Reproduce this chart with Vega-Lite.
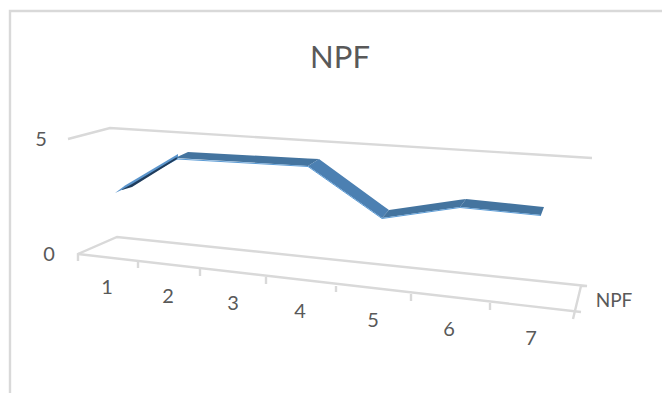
{
  "$schema": "https://vega.github.io/schema/vega-lite/v6.json",
  "width": 662,
  "height": 393,
  "autosize": "none",
  "padding": 0,
  "background": "white",
  "title": {"text": "NPF", "font": "Lato", "fontSize": 31, "fontWeight": "normal", "color": "#595959", "anchor": "middle", "offset": -75, "dx": 9},
  "view": {"stroke": null},
  "datasets": {
    "frame": [
      {"path": "border", "seq": 1, "run": -1.36, "level": -6.043},
      {"path": "border", "seq": 2, "run": -1.36, "level": 10.565},
      {"path": "border", "seq": 3, "run": 11.68, "level": 10.565},
      {"path": "gridline5", "seq": 1, "run": -0.2, "level": 5.0},
      {"path": "gridline5", "seq": 2, "run": 0.64, "level": 5.478},
      {"path": "gridline5", "seq": 3, "run": 10.28, "level": 4.174},
      {"path": "floor", "seq": 1, "run": -0.0, "level": -0.304},
      {"path": "floor", "seq": 2, "run": 0, "level": 0},
      {"path": "floor", "seq": 3, "run": 0.78, "level": 0.739},
      {"path": "floor", "seq": 4, "run": 10.18, "level": -1.391},
      {"path": "floor", "seq": 5, "run": 10.06, "level": -1.391},
      {"path": "floor", "seq": 6, "run": 9.9, "level": -2.826},
      {"path": "front", "seq": 1, "run": 0, "level": 0},
      {"path": "front", "seq": 2, "run": 10.06, "level": -2.522},
      {"path": "tick1", "seq": 1, "run": 1.2, "level": -0.348},
      {"path": "tick1", "seq": 2, "run": 1.2, "level": -0.609},
      {"path": "tick2", "seq": 1, "run": 2.44, "level": -0.652},
      {"path": "tick2", "seq": 2, "run": 2.44, "level": -0.957},
      {"path": "tick3", "seq": 1, "run": 3.76, "level": -1.0},
      {"path": "tick3", "seq": 2, "run": 3.76, "level": -1.304},
      {"path": "tick4", "seq": 1, "run": 5.16, "level": -1.391},
      {"path": "tick4", "seq": 2, "run": 5.16, "level": -1.652},
      {"path": "tick5", "seq": 1, "run": 6.66, "level": -1.739},
      {"path": "tick5", "seq": 2, "run": 6.66, "level": -2.043},
      {"path": "tick6", "seq": 1, "run": 8.24, "level": -2.13},
      {"path": "tick6", "seq": 2, "run": 8.24, "level": -2.435}
    ],
    "ribbon": [
      {"face": "rise top", "run": 0.74, "level": 2.652, "level2": 2.652},
      {"face": "rise top", "run": 0.94, "level": 2.978, "level2": 2.848},
      {"face": "rise top", "run": 2.0, "level": 4.348, "level2": 4.13},
      {"face": "rise side", "run": 0.88, "level": 2.804, "level2": 2.783},
      {"face": "rise side", "run": 1.08, "level": 3.043, "level2": 2.913},
      {"face": "rise side", "run": 1.98, "level": 4.217, "level2": 4.13},
      {"face": "plateau", "run": 1.94, "level": 4.174, "level2": 4.174},
      {"face": "plateau", "run": 2.2, "level": 4.435, "level2": 4.145},
      {"face": "plateau", "run": 4.6, "level": 4.156, "level2": 3.826},
      {"face": "plateau", "run": 4.82, "level": 4.13, "level2": 4.13},
      {"face": "drop", "run": 4.6, "level": 3.826, "level2": 3.826},
      {"face": "drop", "run": 4.82, "level": 4.13, "level2": 3.49},
      {"face": "drop", "run": 6.08, "level": 2.135, "level2": 1.565},
      {"face": "drop", "run": 6.22, "level": 1.913, "level2": 1.913},
      {"face": "recovery", "run": 6.08, "level": 1.565, "level2": 1.565},
      {"face": "recovery", "run": 6.22, "level": 1.913, "level2": 1.608},
      {"face": "recovery", "run": 7.64, "level": 2.354, "level2": 2.043},
      {"face": "recovery", "run": 7.76, "level": 2.391, "level2": 2.391},
      {"face": "tail", "run": 7.64, "level": 2.043, "level2": 2.043},
      {"face": "tail", "run": 7.76, "level": 2.391, "level2": 2.017},
      {"face": "tail", "run": 9.26, "level": 2.057, "level2": 1.696},
      {"face": "tail", "run": 9.32, "level": 2.043, "level2": 2.043}
    ],
    "rim": [
      {"seq": 1, "run": 1.98, "level": 4.13},
      {"seq": 2, "run": 4.6, "level": 3.804},
      {"seq": 3, "run": 6.08, "level": 1.543},
      {"seq": 4, "run": 7.64, "level": 2.022},
      {"seq": 5, "run": 9.26, "level": 1.674}
    ],
    "tickLabels": [
      {"label": "1", "run": 0.58, "level": -1.478},
      {"label": "2", "run": 1.8, "level": -1.87},
      {"label": "3", "run": 3.1, "level": -2.174},
      {"label": "4", "run": 4.44, "level": -2.522},
      {"label": "5", "run": 5.9, "level": -2.913},
      {"label": "6", "run": 7.42, "level": -3.304},
      {"label": "7", "run": 9.06, "level": -3.696},
      {"label": "0", "run": -0.58, "level": -0.043},
      {"label": "5", "run": -0.74, "level": 4.957}
    ],
    "seriesLabel": [
      {"label": "NPF", "run": 10.72, "level": -2.043}
    ]
  },
  "encoding": {
    "x": {"field": "run", "type": "quantitative", "axis": null, "scale": {"domain": [-1.56, 11.68], "nice": false, "zero": false}},
    "y": {"field": "level", "type": "quantitative", "axis": null, "scale": {"domain": [-6.043, 11.043], "nice": false, "zero": false}}
  },
  "layer": [
    {
      "data": {"name": "frame"},
      "mark": {"type": "line", "stroke": "#d9d9d9", "strokeWidth": 2.4, "clip": false},
      "encoding": {
        "detail": {"field": "path", "type": "nominal"},
        "order": {"field": "seq", "type": "quantitative"}
      }
    },
    {
      "data": {"name": "ribbon"},
      "mark": {"type": "area", "orient": "vertical"},
      "encoding": {
        "y2": {"field": "level2"},
        "color": {
          "field": "face",
          "type": "nominal",
          "legend": null,
          "scale": {
            "domain": ["rise top", "rise side", "plateau", "drop", "recovery", "tail"],
            "range": ["#5b95cc", "#1f3c5c", "#44749f", "#4c80b2", "#44749f", "#44749f"]
          }
        }
      }
    },
    {
      "data": {"name": "rim"},
      "mark": {"type": "line", "stroke": "#5b9bd5", "strokeWidth": 1},
      "encoding": {"order": {"field": "seq", "type": "quantitative"}}
    },
    {
      "data": {"name": "tickLabels"},
      "mark": {"type": "text", "font": "Lato", "fontSize": 20, "color": "#595959", "align": "center", "baseline": "middle"},
      "encoding": {"text": {"field": "label", "type": "nominal"}}
    },
    {
      "data": {"name": "seriesLabel"},
      "mark": {"type": "text", "font": "Lato", "fontSize": 19, "color": "#595959", "align": "center", "baseline": "middle"},
      "encoding": {"text": {"field": "label", "type": "nominal"}}
    }
  ]
}
